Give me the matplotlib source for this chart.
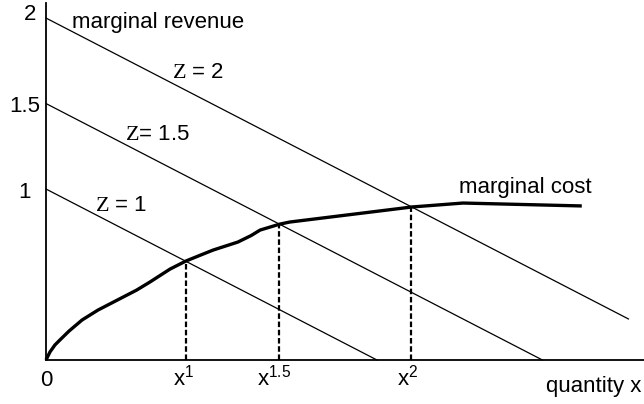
import matplotlib
matplotlib.use("Agg")
import matplotlib.pyplot as plt
import numpy as np

plt.rcParams['font.family'] = ['Liberation Sans', 'DejaVu Sans']
plt.rcParams['mathtext.fontset'] = 'custom'
plt.rcParams['mathtext.rm'] = 'Liberation Serif'
plt.rcParams['mathtext.default'] = 'regular'

# Marginal revenue lines: y = Z - x
z_levels = [1.0, 1.5, 2.0]
mr_x_end = [1.0, 1.5, 1.76]
z_labels = [r"$\mathrm{Z}$ = 1", r"$\mathrm{Z}$= 1.5", r"$\mathrm{Z}$ = 2"]

# Marginal cost curve
mc_x = [0.0, 0.012, 0.027, 0.042, 0.070, 0.109, 0.157, 0.195, 0.233, 0.274,
        0.314, 0.375, 0.423, 0.465, 0.505, 0.580, 0.620, 0.647, 0.707,
        0.737, 1.106, 1.260, 1.619]
mc_y = [0.0, 0.047, 0.088, 0.117, 0.170, 0.234, 0.292, 0.330, 0.368, 0.409,
        0.456, 0.532, 0.579, 0.612, 0.643, 0.690, 0.728, 0.760, 0.795,
        0.807, 0.895, 0.918, 0.901]

# Optimal quantities
opt_x = [0.423, 0.704, 1.103]
opt_y = [0.577, 0.796, 0.897]
opt_labels = [r"x$^{1}$", r"x$^{1.5}$", r"x$^{2}$"]

ytick_vals = [1.0, 1.5, 2.0]
ytick_labels = ["1", "1.5", "2"]

W, H = 644, 404
fig = plt.figure(figsize=(W / 100, H / 100), dpi=100)
ax = fig.add_axes([46 / W, (H - 360) / H, (W - 46) / W, (360 - 3) / H])
ax.set_xlim(0, 1.807)
ax.set_ylim(0, 2.088)
for s in ['top', 'right']:
    ax.spines[s].set_visible(False)
for s in ['left', 'bottom']:
    ax.spines[s].set_linewidth(1.3)
ax.set_xticks([])
ax.set_yticks([])

fs = 16
for z, xe in zip(z_levels, mr_x_end):
    xs = np.array([0.0, xe])
    ax.plot(xs, z - xs, color='black', lw=0.9, clip_on=False)

ax.plot(mc_x, mc_y, color='black', lw=2.4, solid_capstyle='butt',
        solid_joinstyle='round', clip_on=False)

for xv, yv in zip(opt_x, opt_y):
    ax.plot([xv, xv], [0, yv], color='black', lw=1.6, ls=(0, (2.5, 1.2)))

# tick labels on y axis
ypos = {"1": (-0.066, 0.977), "1.5": (-0.063, 1.485), "2": (-0.048, 2.018)}
for v, lab in zip(ytick_vals, ytick_labels):
    px, py = ypos[lab]
    ax.text(px, py, lab, ha='center', va='center', fontsize=fs, clip_on=False)

ax.text(0.0, -0.117, "0", ha='center', va='center', fontsize=fs, clip_on=False)

lab_left = [(173 - 46) / 331, (257 - 46) / 331, (397 - 46) / 331]
for lx, lab in zip(lab_left, opt_labels):
    ax.text(lx, -0.152, lab, ha='left', va='baseline', fontsize=fs, clip_on=False)

ax.text(1.80, -0.187, "quantity x", ha='right', va='baseline', fontsize=fs, clip_on=False)
ax.text(0.0786, 1.942, "marginal revenue", ha='left', va='baseline', fontsize=fs)
ax.text(1.248, 0.977, "marginal cost", ha='left', va='baseline', fontsize=fs)

z_pos = [(0.148, 0.871), (0.239, 1.287), (0.381, 1.649)]
for (zx, zy), lab in zip(z_pos, z_labels):
    ax.text(zx, zy, lab, ha='left', va='baseline', fontsize=fs)

fig.savefig("out.png", dpi=100)
